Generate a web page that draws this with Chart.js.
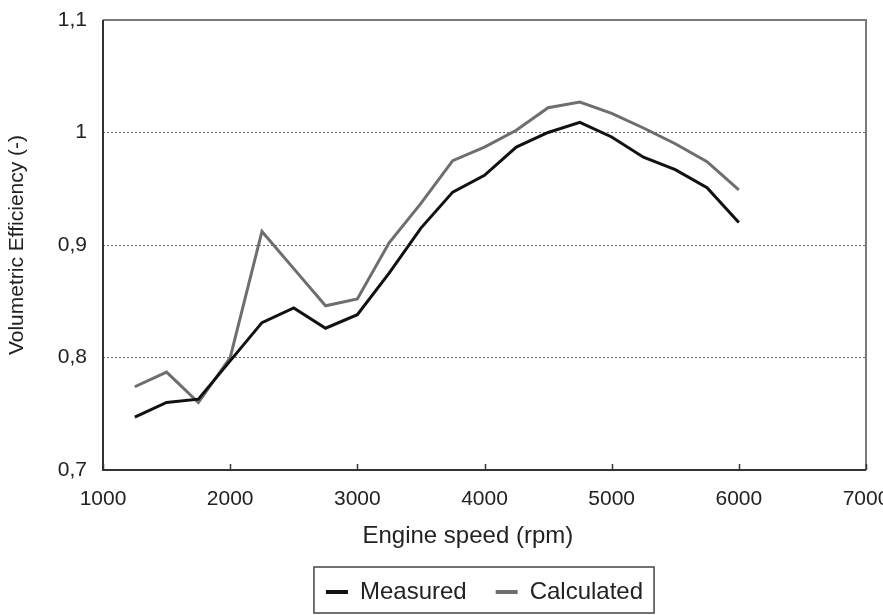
<!DOCTYPE html>
<html>
<head>
<meta charset="utf-8">
<script src="https://cdn.jsdelivr.net/npm/chart.js@4/dist/chart.umd.min.js"></script>
<style>
  html, body { margin: 0; padding: 0; background: #fff; }
  #wrap { width: 883px; height: 615px; }
</style>
</head>
<body>
<div id="wrap"><canvas id="veChart" width="883" height="615"></canvas></div>
<script>
// values
const rpm = [1250, 1500, 1750, 2000, 2250, 2500, 2750, 3000, 3250, 3500, 3750, 4000,
             4250, 4500, 4750, 5000, 5250, 5500, 5750, 6000];
const measured = [0.747, 0.760, 0.763, 0.797, 0.831, 0.844, 0.826, 0.838, 0.875, 0.915,
                  0.947, 0.962, 0.987, 1.000, 1.009, 0.996, 0.978, 0.967, 0.951, 0.920];
const calculated = [0.774, 0.787, 0.760, 0.800, 0.912, 0.879, 0.846, 0.852, 0.902, 0.937,
                    0.975, 0.987, 1.002, 1.022, 1.027, 1.017, 1.004, 0.990, 0.974, 0.949];
const xTicks = [1000, 2000, 3000, 4000, 5000, 6000, 7000];

const toPoints = (ys) => ys.map((y, i) => ({ x: rpm[i], y: y }));
const fmtComma = (v) => String(Number(v.toFixed(1))).replace('.', ',');

// plot frame (solid) and the small inward tick marks on the x axis
const framePlugin = {
    id: 'frame',
    afterDraw(chart) {
        const { ctx, chartArea: a } = chart;
        const xs = chart.scales.x;
        ctx.save();
        ctx.setLineDash([]);
        ctx.strokeStyle = '#7a7a7a';
        ctx.lineWidth = 2;
        ctx.beginPath();
        ctx.moveTo(a.left, a.top);
        ctx.lineTo(a.right, a.top);
        ctx.lineTo(a.right, a.bottom);
        ctx.stroke();
        ctx.strokeStyle = '#333';
        ctx.beginPath();
        ctx.moveTo(a.left, a.top);
        ctx.lineTo(a.left, a.bottom);
        ctx.lineTo(a.right, a.bottom);
        ctx.stroke();
        ctx.lineWidth = 1.5;
        xTicks.forEach(t => {
            const px = Math.round(xs.getPixelForValue(t)) + 0.5;
            ctx.beginPath();
            ctx.moveTo(px, a.bottom);
            ctx.lineTo(px, a.bottom - 6);
            ctx.stroke();
        });
        ctx.restore();
    }
};

// box round the legend
const legendBoxPlugin = {
    id: 'legendBox',
    afterDraw(chart) {
        const lg = chart.legend;
        if (!lg || !lg.legendHitBoxes || !lg.legendHitBoxes.length) return;
        const hb = lg.legendHitBoxes;
        const first = hb[0], last = hb[hb.length - 1];
        const cy = first.top + first.height / 2;
        const { ctx } = chart;
        ctx.save();
        ctx.strokeStyle = '#444';
        ctx.lineWidth = 1.5;
        ctx.strokeRect(first.left - 12, cy - 25, (last.left + last.width + 11) - (first.left - 12), 46);
        ctx.restore();
    }
};

const ctx = document.getElementById('veChart').getContext('2d');
const veChart = new Chart(ctx, {
    type: 'line',
    data: {
        datasets: [{
            label: 'Measured',
            data: toPoints(measured),
            borderColor: '#111',
            backgroundColor: '#111',
            borderWidth: 3,
            pointRadius: 0,
            tension: 0
        }, {
            label: 'Calculated',
            data: toPoints(calculated),
            borderColor: '#6e6e6e',
            backgroundColor: '#6e6e6e',
            borderWidth: 3,
            pointRadius: 0,
            tension: 0
        }]
    },
    options: {
        responsive: false,
        animation: false,
        events: [],
        layout: { padding: { left: 0, right: 17, top: 20, bottom: 1 } },
        scales: {
            x: {
                type: 'linear',
                min: 1000,
                max: 7000,
                afterBuildTicks: (s) => { s.ticks = xTicks.map(v => ({ value: v })); },
                afterFit: (s) => { s.height = 81; s.paddingLeft = 0; s.paddingRight = 0; },
                ticks: {
                    padding: 17,
                    color: '#222',
                    font: { family: 'Liberation Sans', size: 21 },
                    callback: (v) => String(v)
                },
                grid: { drawOnChartArea: false, drawTicks: false },
                border: { display: false },
                title: {
                    display: true,
                    // trailing spaces nudge the centred title left, as in the original
                    text: 'Engine speed (rpm)\u00a0\u00a0\u00a0\u00a0\u00a0',
                    color: '#222',
                    font: { family: 'Liberation Sans', size: 24 },
                    padding: { top: 0, bottom: 0 }
                }
            },
            y: {
                min: 0.7,
                max: 1.1,
                afterFit: (s) => { s.width = 103; s.paddingTop = 0; s.paddingBottom = 0; },
                ticks: {
                    stepSize: 0.1,
                    padding: 16,
                    color: '#222',
                    font: { family: 'Liberation Sans', size: 21 },
                    callback: (v) => fmtComma(v)
                },
                grid: {
                    drawTicks: false,
                    color: (c) => {
                        const v = c.tick ? c.tick.value : 0;
                        return (v < 0.75 || v > 1.05) ? 'rgba(0,0,0,0)' : '#6a6a6a';
                    },
                    lineWidth: 1
                },
                // in v4 border.dash styles the grid lines; the axis line is drawn by the frame plugin
                border: { display: false, dash: [2, 2] },
                title: {
                    display: true,
                    text: 'Volumetric Efficiency (-)',
                    color: '#222',
                    font: { family: 'Liberation Sans', size: 21 },
                    padding: { top: 5, bottom: 0 }
                }
            }
        },
        plugins: {
            legend: {
                position: 'bottom',
                fullSize: false,
                labels: {
                    boxWidth: 22,
                    boxHeight: 4,
                    padding: 29,
                    color: '#222',
                    font: { family: 'Liberation Sans', size: 24 },
                    generateLabels: (chart) =>
                        Chart.defaults.plugins.legend.labels.generateLabels(chart)
                            .map(l => Object.assign(l, { lineWidth: 0 }))
                }
            },
            tooltip: { enabled: false }
        }
    },
    plugins: [framePlugin, legendBoxPlugin]
});
</script>
</body>
</html>
